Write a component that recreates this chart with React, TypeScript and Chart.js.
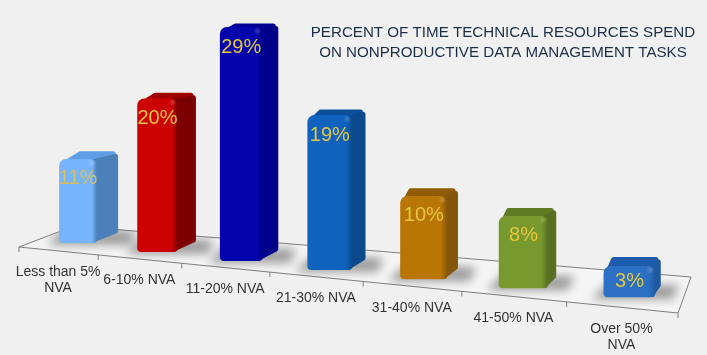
import React, { useEffect, useRef } from "react";
import { Chart, registerables, CategoryScale } from "chart.js";

const categories = [
  "Less than 5%|NVA",
  "6-10% NVA",
  "11-20% NVA",
  "21-30% NVA",
  "31-40% NVA",
  "41-50% NVA",
  "Over 50%|NVA",
];
const percents = [11, 20, 29, 19, 10, 8, 3];
// how much taller each column looks because of the 3-D view
const viewScale = [0.955, 0.96, 1.009, 1.02, 1.04, 1.13, 1.3];
const frontColors = ["#76b5fd", "#cc0000", "#0404ac", "#0f62bd", "#b97603", "#78992d", "#2b70c5"];
const sideColors = ["#4b80ba", "#7c0000", "#00008a", "#0b4a8d", "#85570a", "#566f20", "#1f5aa1"];
const topColors = ["#5f9fe6", "#a00000", "#000092", "#0c4f9b", "#8f5d05", "#5f7b23", "#1d5cab"];
const titleLines = [
  "PERCENT OF TIME TECHNICAL RESOURCES SPEND",
  "ON NONPRODUCTIVE DATA MANAGEMENT TASKS",
];

const FLOOR_ORIGIN = 10; // value at the first column's foot
const FLOOR_STEP = 1.13; // value units each column's foot drops per category
const WARP = 1.22;
const FONT = '"Liberation Sans", Arial, sans-serif';
const FLOOR = { fl: [19, 247], bl: [74, 226], br: [691, 277], fr: [678, 313] };

class PerspectiveCategory extends (CategoryScale as any) {
  static id = "perspectiveCategory";
  static defaults = (CategoryScale as any).defaults;
  getPixelForDecimal(d: number) {
    const t = d / (d + (1 - d) * WARP);
    return super.getPixelForDecimal(t);
  }
}

Chart.register(...registerables, PerspectiveCategory as any);

const frontLineY = (x: number) =>
  FLOOR.fl[1] + ((x - FLOOR.fl[0]) * (FLOOR.fr[1] - FLOOR.fl[1])) / (FLOOR.fr[0] - FLOOR.fl[0]);

const poly = (ctx: CanvasRenderingContext2D, pts: number[][]) => {
  ctx.beginPath();
  pts.forEach((p, i) => (i ? ctx.lineTo(p[0], p[1]) : ctx.moveTo(p[0], p[1])));
  ctx.closePath();
};

const sideDepth = (i: number) => 21 - 2.6 * i;
const topDepth = (h: number) => 10 - h * 0.028;
const barShift = (i: number) => 20 - 2 * i;
const barWidth = (i: number) => 38 + 2.3 * i;

const threeD = {
  id: "threeD",
  afterDatasetsUpdate(chart: any) {
    chart.getDatasetMeta(0).data.forEach((el: any, i: number) => {
      el.x += barShift(i);
      el.width = barWidth(i);
    });
  },
  beforeDatasetsDraw(chart: any) {
    const ctx: CanvasRenderingContext2D = chart.ctx;
    const x = chart.scales.x;
    const corners = [FLOOR.fl, FLOOR.bl, FLOOR.br, FLOOR.fr];
    ctx.save();
    poly(ctx, corners);
    ctx.fillStyle = "#f5f5f5";
    ctx.fill();
    ctx.strokeStyle = "#7d7d7d";
    ctx.lineWidth = 1;
    ctx.stroke();
    categories.concat("").forEach((_, i) => {
      const px = x.getPixelForDecimal(i / categories.length);
      const py = frontLineY(px);
      ctx.beginPath();
      ctx.moveTo(px, py);
      ctx.lineTo(px, py + 5);
      ctx.stroke();
    });
    chart.getDatasetMeta(0).data.forEach((el: any, i: number) => {
      const xl = el.x - el.width / 2;
      const xr = el.x + el.width / 2;
      const yb = el.base;
      const yt = el.y;
      const dx = sideDepth(i);
      // floor shadow
      ctx.save();
      poly(ctx, corners);
      ctx.clip();
      ctx.filter = "blur(5px)";
      ctx.fillStyle = "rgba(0,0,0,0.36)";
      poly(ctx, [
        [xl - 12, yb + 2],
        [xr + dx + 12, yb + 2],
        [xr + dx + 18, yb - 12],
        [xl + 4, yb - 14],
      ]);
      ctx.fill();
      ctx.restore();
      const dt = topDepth(yb - yt);
      ctx.lineJoin = "round";
      ctx.lineWidth = 5;
      // top face
      ctx.fillStyle = ctx.strokeStyle = topColors[i];
      poly(ctx, [
        [xl + 5, yt + 5],
        [xl + Math.max(dx, 10), yt - dt + 2.5],
        [xr + dx - 5, yt - dt + 2.5],
        [xr - 2, yt + 5],
      ]);
      ctx.fill();
      ctx.stroke();
      // side face
      ctx.fillStyle = ctx.strokeStyle = sideColors[i];
      poly(ctx, [
        [xr - 4, yt + 3],
        [xr + dx - 2.5, yt - dt + 5],
        [xr + dx - 2.5, yb - 12],
        [xr - 4, yb - 3],
      ]);
      ctx.fill();
      ctx.stroke();
    });
    ctx.restore();
  },
  afterDatasetsDraw(chart: any) {
    const ctx: CanvasRenderingContext2D = chart.ctx;
    const x = chart.scales.x;
    ctx.save();
    const data = chart.getDatasetMeta(0).data;
    data.forEach((el: any) => {
      const hx = el.x + el.width / 2 - 5;
      const hy = el.y + 4;
      const g = ctx.createRadialGradient(hx, hy, 0, hx, hy, 4);
      g.addColorStop(0, "rgba(255,255,255,0.22)");
      g.addColorStop(1, "rgba(255,255,255,0)");
      ctx.fillStyle = g;
      ctx.fillRect(hx - 4, hy - 4, 8, 8);
    });
    ctx.textAlign = "center";
    ctx.textBaseline = "middle";
    // value labels
    ctx.font = `20px ${FONT}`;
    data.forEach((el: any, i: number) => {
      const h = el.base - el.y;
      ctx.fillStyle = i === 0 ? "#d9be5b" : "#e6c63e";
      ctx.fillText(`${percents[i]}%`, el.x, el.y + Math.min(20, h / 2));
    });
    // category labels
    ctx.font = `14px ${FONT}`;
    ctx.fillStyle = "#333333";
    categories.forEach((label, i) => {
      const px = x.getPixelForValue(i);
      const py = frontLineY(px) + 21.5;
      label.split("|").forEach((line, k) => ctx.fillText(line, px, py + k * 16));
    });
    // title
    ctx.font = `15.15px ${FONT}`;
    ctx.fillStyle = "#1c2e48";
    titleLines.forEach((line, k) => ctx.fillText(line, 503, 32.5 + k * 20));
    ctx.restore();
  },
};

export default function App() {
  const ref = useRef<HTMLCanvasElement>(null);
  useEffect(() => {
    document.body.style.margin = "0";
    document.body.style.background = "#f0f0f0";
    const chart = new Chart(ref.current!, {
      type: "bar",
      data: {
        labels: categories.map((c) => c.replace("|", " ")),
        datasets: [
          {
            data: percents.map((v, i) => {
              const foot = FLOOR_ORIGIN - FLOOR_STEP * i;
              return [foot, foot + v * viewScale[i]];
            }) as any,
            borderSkipped: false,
            borderRadius: { topLeft: 7, topRight: 7, bottomLeft: 4, bottomRight: 4 },
            backgroundColor: (c: any) => {
              const i = c.dataIndex;
              const sc = c.chart.scales.x;
              if (!sc || i === undefined || !c.chart.chartArea) return frontColors[i ?? 0];
              const center = sc.getPixelForValue(i) + barShift(i);
              const half = barWidth(i) / 2;
              const g = c.chart.ctx.createLinearGradient(center - half, 0, center + half, 0);
              g.addColorStop(0, frontColors[i]);
              g.addColorStop(0.86, frontColors[i]);
              g.addColorStop(1, sideColors[i]);
              return g;
            },
          },
        ],
      },
      options: {
        responsive: false,
        animation: false,
        events: [],
        layout: { padding: { left: 19, right: 29, top: 0, bottom: 0 } },
        plugins: { legend: { display: false }, tooltip: { enabled: false } },
        scales: {
          x: { type: "perspectiveCategory" as any, display: false, offset: true },
          y: { display: false, min: -4, max: 40.375 },
        },
      },
      plugins: [threeD],
    });
    return () => chart.destroy();
  }, []);
  return (
    <div style={{ position: "absolute", left: 0, top: 0, width: 707, height: 355 }}>
      <canvas ref={ref} width={707} height={355} style={{ display: "block" }} />
    </div>
  );
}
